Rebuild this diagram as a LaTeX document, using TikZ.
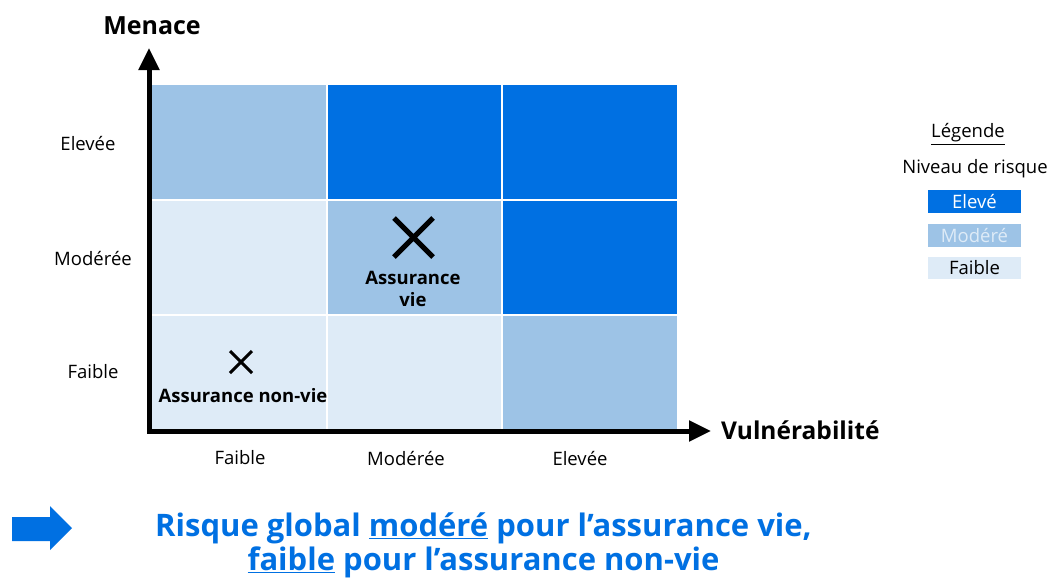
\documentclass[tikz,border=0pt]{standalone}
\usepackage{fontspec}
\setmainfont{Open Sans}
\usetikzlibrary{arrows.meta}
\definecolor{dblue}{RGB}{0,112,226}
\definecolor{mblue}{RGB}{157,195,230}
\definecolor{lblue}{RGB}{222,235,247}
\tikzset{
  cell/.style={draw=white, line width=2pt, minimum width=175.5pt, minimum height=115.5pt, inner sep=0pt},
  lab/.style={font=\fontsize{18.5}{22}\selectfont, inner sep=0pt},
  blab/.style={font=\fontsize{18.5}{22.5}\selectfont\bfseries, inner sep=0pt, align=center},
  legbox/.style={minimum width=93pt, minimum height=22.5pt, inner sep=0pt, font=\fontsize{18.5}{22}\selectfont},
  axis/.style={line width=5pt, {Triangle[length=22pt,width=20pt]}-{Triangle[length=22pt,width=20pt]}}
}
\begin{document}
\begin{tikzpicture}[x=1pt,y=-1pt]
\useasboundingbox (0,0) rectangle (1051,579);
% cells
\node[cell, fill=mblue] (c13) at (239,142) {};
\node[cell, fill=dblue] (c23) at (414.5,142) {};
\node[cell, fill=dblue] (c33) at (590,142) {};
\node[cell, fill=lblue] (c12) at (239,258) {};
\node[cell, fill=mblue] (c22) at (414.5,258) {};
\node[cell, fill=dblue] (c32) at (590,258) {};
\node[cell, fill=lblue] (c11) at (239,373) {};
\node[cell, fill=lblue] (c21) at (414.5,373) {};
\node[cell, fill=mblue] (c31) at (590,373) {};
% axes
\coordinate (ytip) at (149,48);
\coordinate (orig) at (149,431);
\coordinate (xtip) at (711,431);
\draw[axis] (ytip) -- (orig) -- (xtip);
\node[font=\fontsize{25}{28}\selectfont\bfseries, inner sep=0pt] (menace) at (152,26) {Menace};
\node[font=\fontsize{24.5}{28}\selectfont\bfseries, inner sep=0pt, anchor=west] (vuln) at (721,430) {Vulnérabilité};
% row labels
\node[lab] (r3) at (88,143) {Elevée};
\node[lab] (r2) at (93,258) {Modérée};
\node[lab] (r1) at (93,372) {Faible};
% column labels
\node[lab] (k1) at (240,458) {Faible};
\node[lab] (k2) at (406,458) {Modérée};
\node[lab] (k3) at (580,458) {Elevée};
% markers
\draw[line width=5pt] (394,218) -- (433,257) (433,218) -- (394,257);
\draw[line width=3pt] (230,351) -- (252,373) (252,351) -- (230,373);
\node[blab] (av) at (413,289) {Assurance\\vie};
\node[blab] (anv) at (243,396) {Assurance non-vie};
% legend
\node[lab] (leg) at (968,134) {\underline{Légende}};
\node[lab] (niv) at (975,169) {Niveau de risque};
\node[legbox, fill=dblue, text=white] (le) at (974.5,201.5) {Elevé};
\node[legbox, fill=mblue, text=lblue] (lm) at (974.5,235.5) {Modéré};
\node[legbox, fill=lblue, text=black] (lf) at (974.5,268) {Faible};
% bottom arrow
\fill[dblue] (12,517) -- (50,517) -- (50,506) -- (72,528) -- (50,550) -- (50,541) -- (12,541) -- cycle;
\node[font=\fontsize{31}{34}\selectfont\bfseries, text=dblue, align=center, inner sep=0pt] (concl) at (483.5,545)
  {Risque global \underline{modéré} pour l’assurance vie,\\\underline{faible} pour l’assurance non-vie};
\end{tikzpicture}
\end{document}
